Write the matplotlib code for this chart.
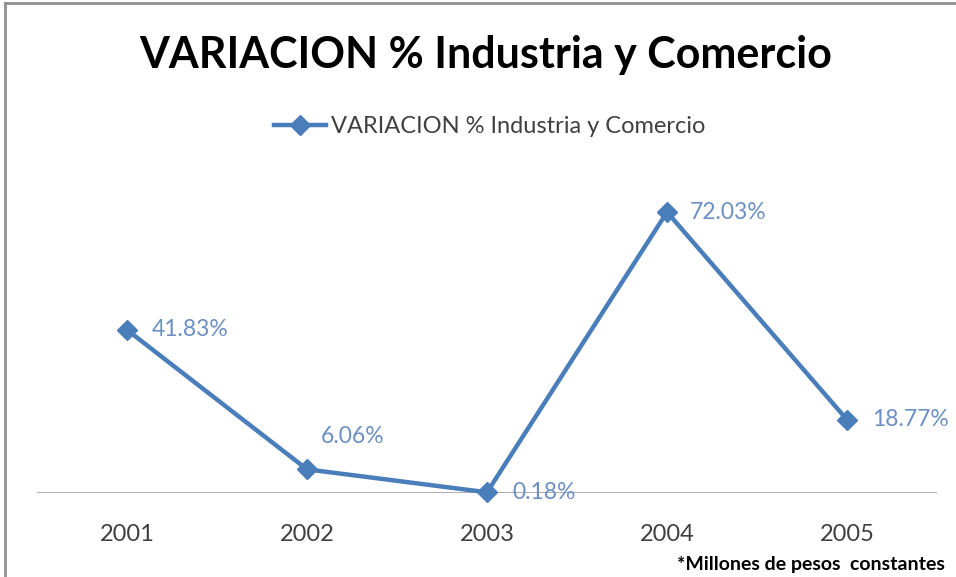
import matplotlib.pyplot as plt
from matplotlib.lines import Line2D

# Data
years = ['2001', '2002', '2003', '2004', '2005']
variacion = [41.83, 6.06, 0.18, 72.03, 18.77]
labels = ['41.83%', '6.06%', '0.18%', '72.03%', '18.77%']
serie = 'VARIACION % Industria y Comercio'

plt.rcParams['font.family'] = ['Lato', 'DejaVu Sans']

blue = '#4A7EBB'
label_blue = '#6C8FC4'
grey_text = '#404040'

fig = plt.figure(figsize=(9.56, 5.77), dpi=100)
ax = fig.add_axes([0.0387, 0.1456, 0.9415, 0.5407])

x = range(len(years))
line, = ax.plot(x, variacion, color=blue, lw=3.2, marker='D', markersize=10,
                clip_on=False, zorder=3)

# label offsets in points (dx, dy, ha)
offsets = [(18, 0, 'left'), (33, 24, 'center'), (18, 0, 'left'),
           (16, 0, 'left'), (18, 0, 'left')]
for i, (v, t) in enumerate(zip(variacion, labels)):
    dx, dy, ha = offsets[i]
    ax.annotate(t, (i, v), xytext=(dx, dy), textcoords='offset points',
                ha=ha, va='center', fontsize=16.5, color=label_blue)

ax.set_xlim(-0.5, 4.5)
ax.set_ylim(0, 80)
ax.axhline(0, color='#A0A0A0', lw=1.2, zorder=1)
for s in ax.spines.values():
    s.set_visible(False)
ax.set_yticks([])
ax.set_xticks(list(x))
ax.set_xticklabels(years, fontsize=17, color=grey_text)
ax.tick_params(axis='x', length=0, pad=22)

fig.text(0.508, 0.905, serie, ha='center', va='center', fontsize=31,
         fontweight='bold', color='black')

# legend drawn as a one-entry legend
fig.legend([line], [serie], loc='center', bbox_to_anchor=(0.512, 0.78),
           frameon=False, fontsize=17, handlelength=2.2, handletextpad=0.2,
           labelcolor=grey_text)

fig.text(0.988, 0.022, '*Millones de pesos  constantes', ha='right',
         va='center', fontsize=14, fontweight='bold', color='black')

# chart border (top and left edges visible)
fig.add_artist(Line2D([0.005, 0.005], [0, 0.995], transform=fig.transFigure,
                      color='#909090', lw=2))
fig.add_artist(Line2D([0.005, 1], [0.995, 0.995], transform=fig.transFigure,
                      color='#909090', lw=2))

fig.savefig('out.png', dpi=100)
